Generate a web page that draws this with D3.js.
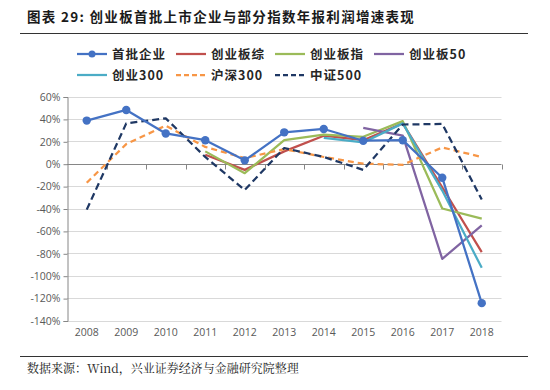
<!DOCTYPE html>
<html>
<head>
<meta charset="utf-8">
<script src="https://cdn.jsdelivr.net/npm/d3@7"></script>
<style>
  body { margin: 0; background: #fff; }
  svg { display: block; font-family: "Noto Sans CJK SC", "Open Sans", sans-serif; }
</style>
</head>
<body>
<svg id="chart"></svg>
<script>
// years on the x axis
var years = ["2008", "2009", "2010", "2011", "2012", "2013", "2014", "2015", "2016", "2017", "2018"]
var yTicks = [60, 40, 20, 0, -20, -40, -60, -80, -100, -120, -140]

// profit growth, % (null = no data)
var firstBatch = [38.5, 48, 27, 21, 3, 28, 31, 20.5, 21, -12.5, -124.5]
var gemComposite = [null, null, null, 8, -5.5, 11, 25, 21, 36, -21, -79]
var gemIndex = [null, null, null, 11, -8.5, 21, 26, 24, 38, -40, -49]
var gem50 = [null, null, null, null, null, null, null, 32, 25, -85, -55]
var gem300 = [null, null, null, null, null, null, 23, 19, 36, -24, -93]
var hs300 = [-17, 17.5, 34, 15, 5, 13, 6, 0, -1, 14.5, 6]
var zz500 = [-41, 36, 40.5, 6, -23.5, 14, 6, -5.5, 35, 35.5, -32]

var seriesNames = ["首批企业", "创业板综", "创业板指", "创业板50", "创业300", "沪深300", "中证500"]

var series = [
    { name: seriesNames[1], values: gemComposite, color: "#C0504D", dash: null },
    { name: seriesNames[2], values: gemIndex, color: "#9BBB59", dash: null },
    { name: seriesNames[3], values: gem50, color: "#8064A2", dash: null },
    { name: seriesNames[4], values: gem300, color: "#4BACC6", dash: null },
    { name: seriesNames[5], values: hs300, color: "#F79646", dash: "6,4" },
    { name: seriesNames[6], values: zz500, color: "#1F3864", dash: "7,4" },
    { name: seriesNames[0], values: firstBatch, color: "#4472C4", dash: null, marker: true }
]

var dimensions = {
    width: 550,
    height: 390,
    margin: { top: 96.5, bottom: 69.5, left: 67, right: 48.5 }
}

var svg = d3.select("#chart")
    .attr("width", dimensions.width)
    .attr("height", dimensions.height)

var xScale = d3.scaleBand()
    .domain(years)
    .range([dimensions.margin.left, dimensions.width - dimensions.margin.right])

var yScale = d3.scaleLinear()
    .domain([-140, 60])
    .range([dimensions.height - dimensions.margin.bottom, dimensions.margin.top])

// title + rule
svg.append("text")
    .attr("x", 27)
    .attr("y", 22)
    .attr("font-size", 13.5)
    .attr("font-weight", "bold")
    .attr("fill", "#1a1a1a")
    .style("letter-spacing", "1.3px")
    .style("white-space", "pre")
    .text("图表 29: 创业板首批上市企业与部分指数年报利润增速表现")

svg.append("line")
    .attr("x1", 20).attr("x2", 528)
    .attr("y1", 33.5).attr("y2", 33.5)
    .attr("stroke", "#333").attr("stroke-width", 1)

// gridlines
svg.append("g")
    .selectAll("line")
    .data(yTicks.filter(d => d !== 0))
    .enter()
    .append("line")
    .attr("x1", dimensions.margin.left)
    .attr("x2", dimensions.width - dimensions.margin.right)
    .attr("y1", d => Math.round(yScale(d)) + 0.5)
    .attr("y2", d => Math.round(yScale(d)) + 0.5)
    .attr("stroke", "#D9D9D9")

// y axis
var yAxis = d3.axisLeft(yScale)
    .tickValues(yTicks)
    .tickSize(4)
    .tickPadding(3)
    .tickFormat(d => d + "%")

var yg = svg.append("g")
    .attr("transform", "translate(" + (dimensions.margin.left + 0.5) + ",0.5)")
    .call(yAxis)
yg.select(".domain").attr("stroke", "#868686")
yg.selectAll(".tick line").attr("stroke", "#868686")
yg.selectAll("text")
    .attr("fill", "#595959")
    .style("font", "10.5px 'Open Sans', sans-serif")

// zero line with ticks at band boundaries
var y0 = Math.round(yScale(0)) + 0.5
svg.append("line")
    .attr("x1", dimensions.margin.left)
    .attr("x2", dimensions.width - dimensions.margin.right)
    .attr("y1", y0).attr("y2", y0)
    .attr("stroke", "#868686")

svg.append("g")
    .selectAll("line")
    .data(years)
    .enter()
    .append("line")
    .attr("x1", d => Math.round(xScale(d) + xScale.bandwidth()) + 0.5)
    .attr("x2", d => Math.round(xScale(d) + xScale.bandwidth()) + 0.5)
    .attr("y1", y0).attr("y2", y0 + 5)
    .attr("stroke", "#868686")

// x labels at bottom
var xAxis = d3.axisBottom(xScale).tickSize(0).tickPadding(8)
var xg = svg.append("g")
    .attr("transform", "translate(0," + (dimensions.height - dimensions.margin.bottom) + ")")
    .call(xAxis)
xg.select(".domain").remove()
xg.selectAll("text")
    .attr("fill", "#595959")
    .style("font", "10.5px 'Open Sans', sans-serif")

// lines
var line = d3.line()
    .defined(d => d.v !== null)
    .x(d => xScale(d.year) + xScale.bandwidth() / 2)
    .y(d => yScale(d.v))

series.forEach(function (s) {
    var pts = years.map((y, i) => ({ year: y, v: s.values[i] }))
    svg.append("path")
        .datum(pts)
        .attr("d", line)
        .attr("fill", "none")
        .attr("stroke", s.color)
        .attr("stroke-width", 2.25)
        .attr("stroke-dasharray", s.dash)
        .attr("stroke-linejoin", "round")
    if (s.marker) {
        svg.append("g")
            .selectAll("circle")
            .data(pts.filter(d => d.v !== null))
            .enter()
            .append("circle")
            .attr("cx", d => xScale(d.year) + xScale.bandwidth() / 2)
            .attr("cy", d => yScale(d.v))
            .attr("r", 4.2)
            .attr("fill", s.color)
    }
})

// legend
var legendOrder = [series[6], series[0], series[1], series[2], series[3], series[4], series[5]]
var legend = svg.append("g")
legendOrder.forEach(function (s, i) {
    var col = i % 4, row = Math.floor(i / 4)
    var lx = 77 + col * 99, ly = 54 + row * 21
    var g = legend.append("g").attr("transform", "translate(" + lx + "," + ly + ")")
    g.append("line")
        .attr("x1", 0).attr("x2", 30)
        .attr("y1", 0).attr("y2", 0)
        .attr("stroke", s.color)
        .attr("stroke-width", 2.25)
        .attr("stroke-dasharray", s.dash ? "5,3" : null)
    if (s.marker) {
        g.append("circle").attr("cx", 15).attr("cy", 0).attr("r", 3.5).attr("fill", s.color)
    }
    g.append("text")
        .attr("x", 35)
        .attr("y", 4.5)
        .attr("font-size", 12.5)
        .attr("font-weight", "bold")
        .attr("fill", "#262626")
        .style("letter-spacing", "1px")
        .text(s.name)
})

// bottom rule + source
svg.append("line")
    .attr("x1", 20).attr("x2", 528)
    .attr("y1", 356.5).attr("y2", 356.5)
    .attr("stroke", "#333").attr("stroke-width", 1)

svg.append("text")
    .attr("x", 27)
    .attr("y", 373)
    .attr("font-size", 12)
    .attr("fill", "#222")
    .style("font-family", "'Noto Serif CJK SC', 'Liberation Serif', serif")
    .text("数据来源：Wind，兴业证券经济与金融研究院整理")
</script>
</body>
</html>
